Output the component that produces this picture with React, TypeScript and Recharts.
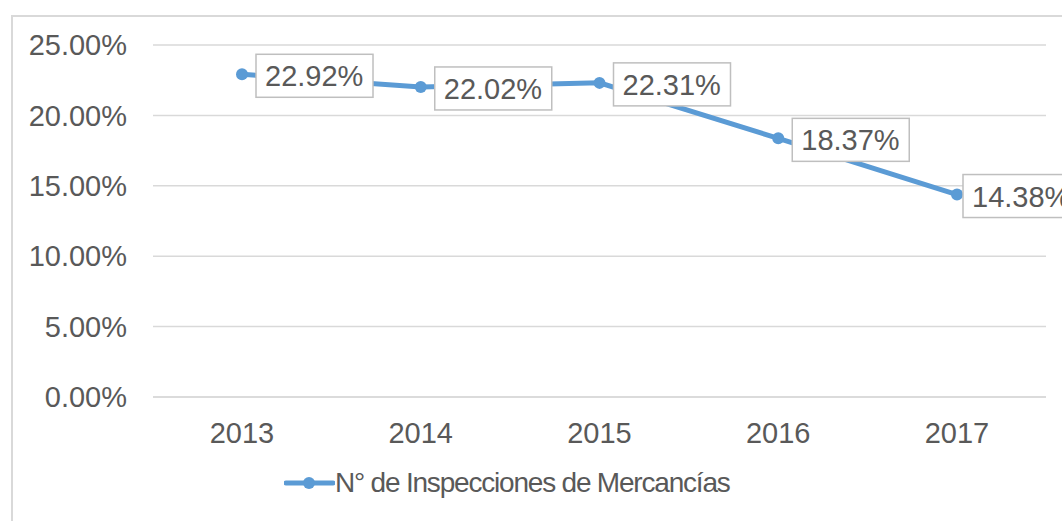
import { CartesianGrid, Legend, Line, LineChart, XAxis, YAxis } from "recharts";

const years = ["2013", "2014", "2015", "2016", "2017"];
const inspecciones = [22.92, 22.02, 22.31, 18.37, 14.38];
const yTicks = [0, 5, 10, 15, 20, 25];
const seriesName = "N° de Inspecciones de Mercancías";

const data = years.map((year, i) => ({ year, value: inspecciones[i] }));

const BLUE = "#5B9BD5";
const TEXT = "#595959";
const GRID = "#d9d9d9";
const FONT = "'Liberation Sans', Arial, sans-serif";

const pct = (v: number) => `${v.toFixed(2)}%`;

function ValueLabel(props: any) {
  const { x, y, value, index } = props;
  if (x == null || y == null) return null;
  // the last label sits closer to its point, as in the original chart
  const left = x + (index === years.length - 1 ? 6 : 14);
  return (
    <g>
      <rect x={left} y={y - 20} width={117} height={43} fill="#fff" stroke="#bfbfbf" strokeWidth={1.5} />
      <text x={left + 9} y={y + 2} dominantBaseline="central" fontSize={29} fill={TEXT} fontFamily={FONT}>
        {pct(Number(value))}
      </text>
    </g>
  );
}

function LegendContent() {
  return (
    <div style={{ display: "flex", alignItems: "center", height: 34 }}>
      <svg width={51} height={34}>
        <line x1={2} y1={17} x2={49} y2={17} stroke={BLUE} strokeWidth={5} strokeLinecap="round" />
        <circle cx={25} cy={17} r={6} fill={BLUE} />
      </svg>
      <span style={{ fontFamily: FONT, fontSize: 28, color: TEXT, whiteSpace: "nowrap", letterSpacing: -1.2 }}>
        {seriesName}
      </span>
    </div>
  );
}

export default function App() {
  return (
    <div style={{ position: "absolute", left: 0, top: 0, width: 1062, height: 521, overflow: "hidden", background: "#fff" }}>
      <div
        style={{
          position: "absolute",
          left: 11,
          top: 15,
          width: 1100,
          height: 600,
          border: `2px solid ${GRID}`,
          boxSizing: "border-box",
        }}
      />
      <div style={{ position: "absolute", left: 0, top: 0 }}>
        <LineChart width={1062} height={521} data={data} margin={{ top: 45, right: 16, bottom: 30, left: 0 }}>
          <CartesianGrid vertical={false} stroke={GRID} strokeWidth={1.5} />
          <XAxis
            dataKey="year"
            height={60}
            padding={{ left: 89, right: 89 }}
            tickSize={0}
            tickMargin={25}
            axisLine={{ stroke: GRID, strokeWidth: 1.5 }}
            tickLine={false}
            tick={{ fill: TEXT, fontSize: 29, fontFamily: FONT }}
          />
          <YAxis
            width={153}
            domain={[0, 25]}
            ticks={yTicks}
            tickFormatter={pct}
            tickSize={0}
            tickMargin={26}
            axisLine={false}
            tickLine={false}
            tick={{ fill: TEXT, fontSize: 29, fontFamily: FONT }}
          />
          <Legend
            verticalAlign="bottom"
            content={<LegendContent />}
            wrapperStyle={{ left: 284, top: 466, width: "auto", height: 34 }}
          />
          <Line
            type="linear"
            dataKey="value"
            name={seriesName}
            stroke={BLUE}
            strokeWidth={5}
            dot={{ r: 6, fill: BLUE, stroke: BLUE, strokeWidth: 0 }}
            activeDot={false}
            label={<ValueLabel />}
            isAnimationActive={false}
          />
        </LineChart>
      </div>
    </div>
  );
}
